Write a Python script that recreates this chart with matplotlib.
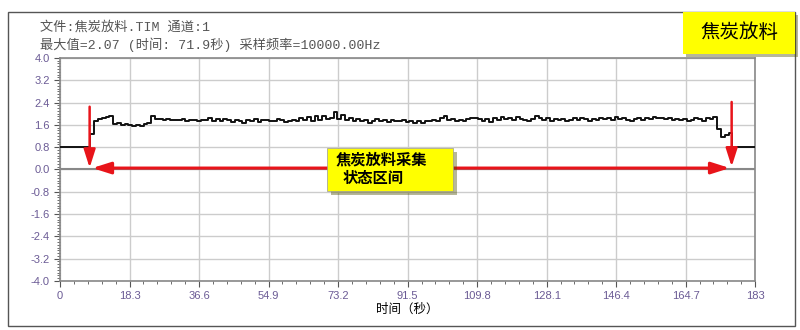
import matplotlib
matplotlib.use('Agg')
import matplotlib.pyplot as plt
from matplotlib.patches import Rectangle
from matplotlib.ticker import MultipleLocator, AutoMinorLocator
import matplotlib.patheffects as pe
import numpy as np

plt.rcParams['font.family'] = ['Noto Sans CJK SC', 'DejaVu Sans']

# signal values, one per second (0..183 s)
signal = [0.80, 0.80, 0.80, 0.80, 0.80, 0.80, 0.80, 0.80,
          1.27, 1.74, 1.82, 1.85, 1.88, 1.90, 1.62, 1.66, 1.60, 1.63,
          1.58, 1.56, 1.60, 1.55, 1.62, 1.66, 1.92, 1.80, 1.82, 1.78,
          1.80, 1.76, 1.79, 1.77, 1.80, 1.74, 1.78, 1.76, 1.73, 1.79,
          1.76, 1.84, 1.75, 1.80, 1.72, 1.82, 1.76, 1.70, 1.78, 1.74,
          1.68, 1.77, 1.74, 1.80, 1.71, 1.76, 1.78, 1.72, 1.75, 1.82,
          1.76, 1.70, 1.74, 1.79, 1.73, 1.84, 1.76, 1.88, 1.74, 1.90,
          1.78, 1.93, 1.80, 1.86, 2.07, 1.82, 1.95, 1.78, 1.84, 1.75,
          1.80, 1.72, 1.76, 1.68, 1.74, 1.80, 1.72, 1.76, 1.70, 1.78,
          1.74, 1.72, 1.77, 1.70, 1.74, 1.66, 1.73, 1.68, 1.75, 1.72,
          1.78, 1.74, 1.84, 1.90, 1.76, 1.80, 1.72, 1.78, 1.74, 1.82,
          1.86, 1.84, 1.80, 1.74, 1.82, 1.70, 1.85, 1.78, 1.88, 1.80,
          1.84, 1.76, 1.88, 1.82, 1.78, 1.74, 1.80, 1.92, 1.86, 1.78,
          1.84, 1.72, 1.80, 1.76, 1.82, 1.74, 1.78, 1.84, 1.76, 1.86,
          1.80, 1.74, 1.82, 1.78, 1.86, 1.80, 1.84, 1.76, 1.88, 1.82,
          1.86, 1.78, 1.72, 1.80, 1.84, 1.78, 1.86, 1.82, 1.88, 1.84,
          1.86, 1.80, 1.84, 1.78, 1.82, 1.76, 1.80, 1.72, 1.78, 1.84,
          1.80, 1.74, 1.86, 1.80, 1.88, 1.45, 1.18, 1.22, 1.30, 0.80,
          0.80, 0.80, 0.80, 0.80, 0.80, 0.80]
seconds = np.arange(len(signal))

xticks = [0, 18.3, 36.6, 54.9, 73.2, 91.5, 109.8, 128.1, 146.4, 164.7, 183]
xticklabels = ['0', '18.3', '36.6', '54.9', '73.2', '91.5', '109.8', '128.1', '146.4', '164.7', '183']
yticks = [-4.0, -3.2, -2.4, -1.6, -0.8, 0.0, 0.8, 1.6, 2.4, 3.2, 4.0]

header1 = '文件:焦炭放料.TIM 通道:1'
header2 = '最大值=2.07 (时间: 71.9秒) 采样频率=10000.00Hz'

red = '#e8141a'
tickcol = '#6b5b95'

fig = plt.figure(figsize=(8, 3.3), dpi=100)
ax = fig.add_axes([0.075, 0.1485, 0.869, 0.676])

# outer frame
fig.patches.append(Rectangle((0.01, 0.012), 0.984, 0.952, transform=fig.transFigure,
                             fill=False, edgecolor='#555555', lw=1.0))
# yellow title box
fig.patches.append(Rectangle((0.854, 0.836), 0.14, 0.128, transform=fig.transFigure,
                             facecolor='#ffff00', edgecolor='none',
                             path_effects=[pe.SimplePatchShadow(offset=(2, -2), alpha=0.4), pe.Normal()]))
fig.text(0.924, 0.9, '焦炭放料', fontsize=14, ha='center', va='center', color='black')

fig.text(0.05, 0.916, header1, fontsize=9.5, color='#555555', va='center',
         family=['Liberation Mono', 'Noto Sans CJK SC'])
fig.text(0.05, 0.866, header2, fontsize=9.5, color='#555555', va='center',
         family=['Liberation Mono', 'Noto Sans CJK SC'])

ax.plot(seconds, signal, drawstyle='steps-post', color='#111111', lw=1.4, zorder=3)
ax.axhline(0, color='#888888', lw=1.5, zorder=2)

ax.set_xlim(0, 183)
ax.set_ylim(-4.0, 4.0)
ax.set_xticks(xticks)
ax.set_xticklabels(xticklabels)
ax.set_yticks(yticks)
ax.set_yticklabels(['%.1f' % v for v in yticks])
ax.xaxis.set_minor_locator(AutoMinorLocator(5))
ax.yaxis.set_minor_locator(MultipleLocator(0.1))
ax.grid(True, which='major', color='#cccccc', lw=1.0, zorder=0)
ax.tick_params(which='major', length=4, color='#555555', labelsize=8, labelcolor=tickcol)
ax.tick_params(which='minor', length=2, color='#555555')
for lab in ax.get_xticklabels() + ax.get_yticklabels():
    lab.set_family('Liberation Sans')
for s in ax.spines.values():
    s.set_color('#888888')
    s.set_linewidth(1.2)
ax.set_xlabel('时间（秒）', fontsize=9, labelpad=1)

# arrows
style = '-|>,head_length=1.1,head_width=0.35'
ax.annotate('', xy=(7.8, 0.06), xytext=(7.8, 2.25),
            arrowprops=dict(arrowstyle=style, color=red, lw=1.8, shrinkA=0, shrinkB=0))
ax.annotate('', xy=(176.8, 0.1), xytext=(176.8, 2.42),
            arrowprops=dict(arrowstyle=style, color=red, lw=1.8, shrinkA=0, shrinkB=0))
ax.annotate('', xy=(8.5, 0.05), xytext=(71, 0.05),
            arrowprops=dict(arrowstyle=style, color=red, lw=2.2, shrinkA=0, shrinkB=0))
ax.annotate('', xy=(176.3, 0.05), xytext=(103, 0.05),
            arrowprops=dict(arrowstyle=style, color=red, lw=2.2, shrinkA=0, shrinkB=0))

# middle label box
box = Rectangle((70.2, -0.76), 33.3, 1.52, facecolor='#ffff00', edgecolor='#999999', lw=0.5,
                zorder=5, clip_on=False,
                path_effects=[pe.SimplePatchShadow(offset=(3, -3), alpha=0.4), pe.Normal()])
ax.add_patch(box)
ax.text(84.5, 0.35, '焦炭放料采集', fontsize=11, fontweight='bold', ha='center', va='center', zorder=6)
ax.text(82.4, -0.3, '状态区间', fontsize=11, fontweight='bold', ha='center', va='center', zorder=6)

fig.savefig('out.png', dpi=100)
